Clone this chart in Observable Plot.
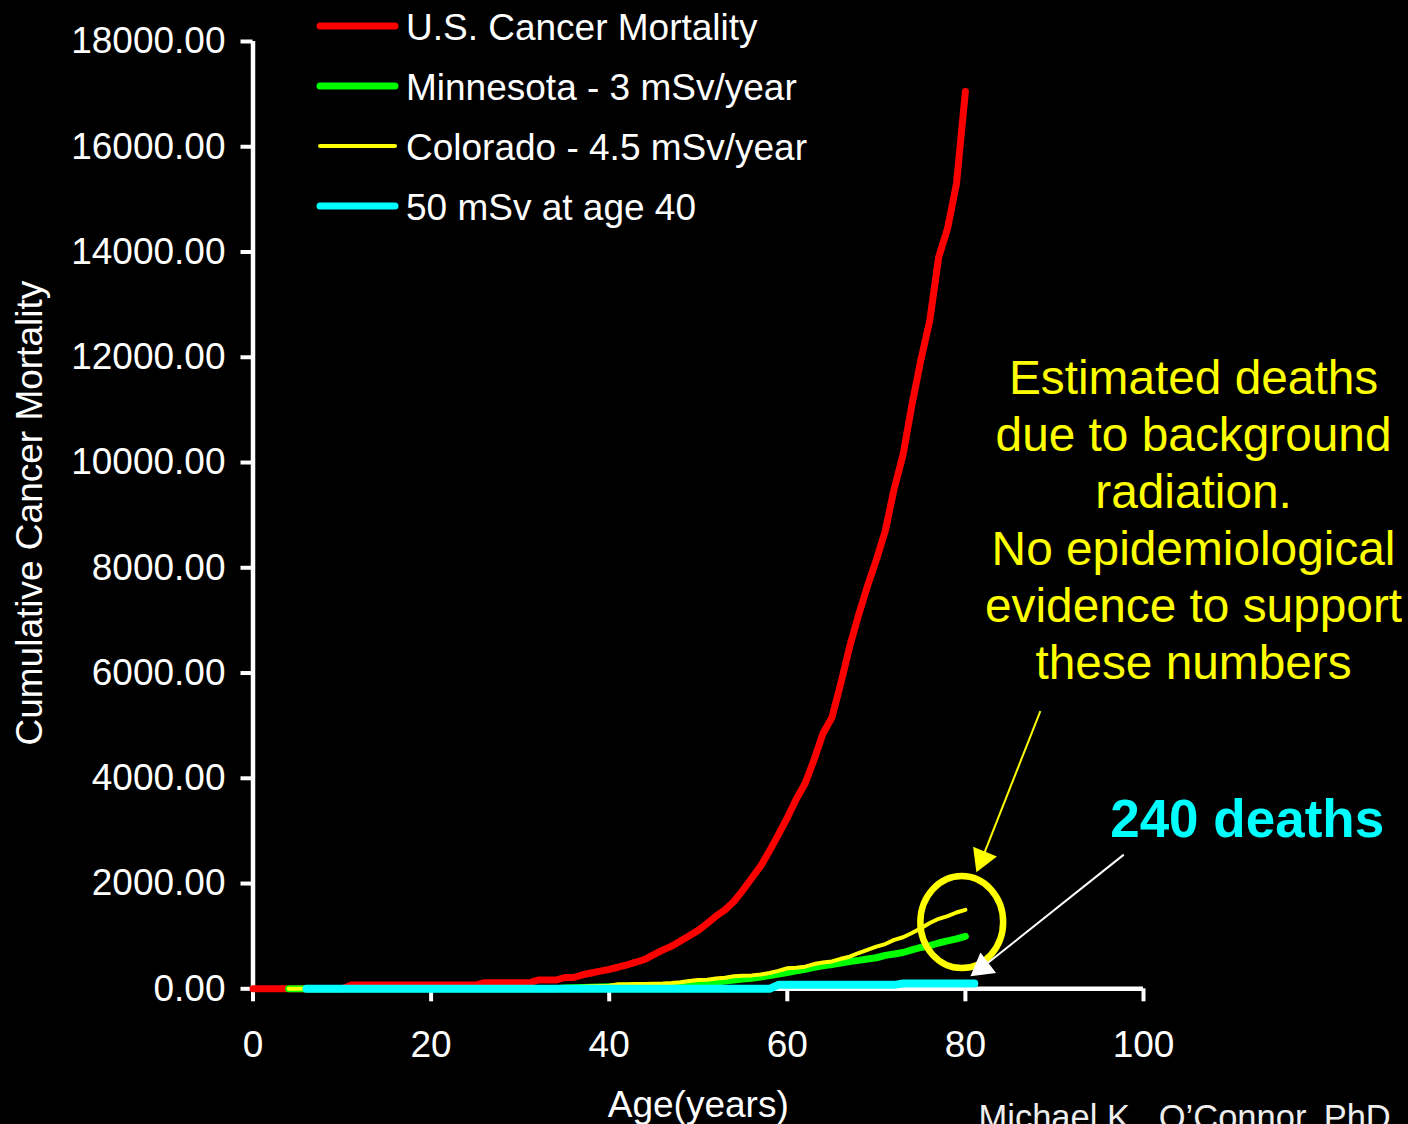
<!DOCTYPE html>
<html>
<head>
<meta charset="utf-8">
<script src="https://cdn.jsdelivr.net/npm/d3@7"></script>
<script src="https://cdn.jsdelivr.net/npm/@observablehq/plot@0.6"></script>
<style>
html,body{margin:0;padding:0;background:#000;}
#wrap{position:relative;width:1408px;height:1124px;overflow:hidden;background:#000;font-family:"Liberation Sans",Arial,sans-serif;}
#wrap svg{display:block;}
#legend{position:absolute;left:0;top:0;}
</style>
</head>
<body>
<div id="wrap"></div>
<script>
// ---------- data ----------
const usAges = d3.range(0, 81);
const usMortality = [
  0,0,0,0,0,0,0,0,0,0,0,
  70,70,70,70,70,70,70,70,70,70,70,70,70,70,70,
  115,115,115,115,115,115,
  165,165,165,
  215,215,
  266,300,335,370,410,456,505,560,650,735,
  810,910,1010,1110,1240,1380,1500,1660,1870,2100,
  2330,2620,2930,3250,3600,3900,4350,4850,5150,5800,
  6500,7100,7650,8150,8700,9500,10150,11100,11950,12700,
  13900,14450,15300,17050
];

const mnAges = d3.range(4, 81);
const minnesota = [
  0,0,0,0,0,0,0,0,0,0,0,0,0,0,0,0,0,0,0,0,0,0,0,0,0,0,0,0,0,0,0,
  15,20,25,30,35,40,45,50,55,57,
  60,62,65,75,85,95,110,130,150,165,
  185,200,225,250,280,310,340,370,410,435,
  460,490,520,540,565,590,635,660,690,740,
  785,820,870,910,950,995
];

const coAges = d3.range(4, 81);
const colorado = [
  0,0,0,0,0,0,0,0,0,0,0,0,0,0,0,0,0,0,0,0,0,0,0,0,0,0,0,0,0,0,0,
  20,30,40,50,55,60,85,88,90,92,
  95,100,110,125,150,165,170,195,210,240,
  250,255,270,300,340,390,400,420,470,500,
  520,570,610,680,740,800,850,930,980,1060,
  1150,1250,1330,1380,1450,1500
];

const doseAges = d3.range(6, 82);
const dose50 = [
  0,0,0,0,0,0,0,0,0,0,0,0,0,0,0,0,0,0,0,0,0,0,0,0,0,0,0,
  0,0,0,0,0,0,0,0,0,0,0,0,0,0,0,0,0,0,0,0,0,0,0,0,0,0,
  75,75,75,75,75,75,75,75,75,75,75,75,75,75,
  100,100,100,100,100,100,100,100,100
];

const xTicks = [0, 20, 40, 60, 80, 100];
const yTicks = [0, 2000, 4000, 6000, 8000, 10000, 12000, 14000, 16000, 18000];

const seriesNames = ["U.S. Cancer Mortality", "Minnesota - 3 mSv/year", "Colorado - 4.5 mSv/year", "50 mSv at age 40"];
const seriesColors = ["#ff0000", "#00ff00", "#ffff00", "#00ffff"];
const seriesWidths = [7, 7, 4, 8];

// annotations (data coordinates: age, deaths)
const noteText = "Estimated deaths\ndue to background\nradiation.\nNo epidemiological\nevidence to support\nthese numbers";
const notePos = [{x: 105.62, y: 5893}];
const deathsText = "240 deaths";
const deathsPos = [{x: 111.64, y: 2878}];
const yellowArrow = [{x1: 88.42, y1: 5277, x2: 81.88, y2: 2475}];
const whiteArrow = [{x1: 97.79, y1: 2549, x2: 81.90, y2: 408}];
const yellowHead = [{x: 81.88, y: 2475}];
const whiteHead = [{x: 81.90, y: 408}];
const circleMark = [{x: 79.59, y: 1267}];
const credit = "Michael K.  O\u2019Connor, PhD";

// ---------- build ----------
const rows = (ages, vals) => ages.map((a, i) => ({age: a, value: vals[i]}));
const data = [rows(usAges, usMortality), rows(mnAges, minnesota), rows(coAges, colorado), rows(doseAges, dose50)];

const ellipseSymbol = {
  draw(ctx, size) {
    const r = Math.sqrt(size / Math.PI);
    const rx = r * 0.9, ry = r, k = 0.5523;
    ctx.moveTo(rx, 0);
    ctx.bezierCurveTo(rx, ry * k, rx * k, ry, 0, ry);
    ctx.bezierCurveTo(-rx * k, ry, -rx, ry * k, -rx, 0);
    ctx.bezierCurveTo(-rx, -ry * k, -rx * k, -ry, 0, -ry);
    ctx.bezierCurveTo(rx * k, -ry, rx, -ry * k, rx, 0);
    ctx.closePath();
  }
};

const FONT = '"Liberation Sans", Arial, sans-serif';

const chart = Plot.plot({
  width: 1408,
  height: 1124,
  marginLeft: 252.5,
  marginRight: 265,
  marginTop: 41,
  marginBottom: 135.7,
  style: {background: "#000", color: "#fff", fontFamily: FONT, overflow: "visible"},
  x: {domain: [0, 100]},
  y: {domain: [0, 18000]},
  marks: [
    Plot.axisY({ticks: yTicks, tickSize: 12, tickPadding: 15.5, tickFormat: d => d.toFixed(2), fontSize: 37, strokeWidth: 4, label: null}),
    Plot.axisX({ticks: xTicks, tickSize: 13, tickPadding: 28.5, fontSize: 37, strokeWidth: 4, label: null}),
    Plot.ruleX([0], {y1: 0, y2: 18000, stroke: "#fff", strokeWidth: 4.5}),
    Plot.ruleY([0], {x1: 0, x2: 100, stroke: "#fff", strokeWidth: 4.5}),
    ...data.map((d, i) => Plot.line(d, {x: "age", y: "value", stroke: seriesColors[i], strokeWidth: seriesWidths[i], strokeLinecap: "round", strokeLinejoin: "round"})),
    Plot.text(["Age(years)"], {text: d => d, frameAnchor: "bottom", dy: 128.5, lineAnchor: "bottom", fontSize: 37, fill: "#fff"}),
    Plot.text(["Cumulative Cancer Mortality"], {text: d => d, frameAnchor: "left", rotate: -90, dx: -211, dy: -2, lineAnchor: "bottom", textAnchor: "middle", fontSize: 37, fill: "#fff"}),
    Plot.dot(circleMark, {x: "x", y: "y", symbol: ellipseSymbol, r: 46, stroke: "#ffff00", strokeWidth: 6.5, fill: "none"}),
    Plot.link(yellowArrow, {x1: "x1", y1: "y1", x2: "x2", y2: "y2", stroke: "#ffff00", strokeWidth: 2}),
    Plot.dot(yellowHead, {x: "x", y: "y", symbol: "triangle", r: 9.6, fill: "#ffff00", stroke: "none", rotate: 202.6}),
    Plot.link(whiteArrow, {x1: "x1", y1: "y1", x2: "x2", y2: "y2", stroke: "#fff", strokeWidth: 2}),
    Plot.dot(whiteHead, {x: "x", y: "y", symbol: "triangle", r: 9.6, fill: "#fff", stroke: "none", rotate: 232.8}),
    Plot.text(notePos, {x: "x", y: "y", text: () => noteText, fill: "#ffff00", fontSize: 47.8, lineHeight: 1.1925, lineAnchor: "bottom", textAnchor: "middle"}),
    Plot.text(deathsPos, {x: "x", y: "y", text: () => deathsText, fill: "#00ffff", fontSize: 53, fontWeight: "bold", lineAnchor: "bottom", textAnchor: "middle"}),
    Plot.text([credit], {text: d => d, frameAnchor: "bottom-right", dx: -165, dy: 140, textAnchor: "start", lineAnchor: "bottom", fontSize: 34.5, fill: "#eeeeee"})
  ]
});

const wrap = document.getElementById("wrap");
wrap.appendChild(chart);

// ---------- legend (overlay at top) ----------
const ns = "http://www.w3.org/2000/svg";
const leg = document.createElementNS(ns, "svg");
leg.setAttribute("id", "legend");
leg.setAttribute("width", 1408);
leg.setAttribute("height", 240);
seriesNames.forEach((name, i) => {
  const base = 40 + i * 60;
  const ln = document.createElementNS(ns, "line");
  ln.setAttribute("x1", 320); ln.setAttribute("x2", 395);
  ln.setAttribute("y1", base - 14); ln.setAttribute("y2", base - 14);
  ln.setAttribute("stroke", seriesColors[i]);
  ln.setAttribute("stroke-width", seriesWidths[i] === 8 ? 7 : seriesWidths[i]);
  ln.setAttribute("stroke-linecap", "round");
  leg.appendChild(ln);
  const tx = document.createElementNS(ns, "text");
  tx.setAttribute("x", 406); tx.setAttribute("y", base);
  tx.setAttribute("fill", "#fff");
  tx.setAttribute("font-size", 37);
  tx.setAttribute("font-family", FONT);
  tx.textContent = name;
  leg.appendChild(tx);
});
wrap.appendChild(leg);
</script>
</body>
</html>
